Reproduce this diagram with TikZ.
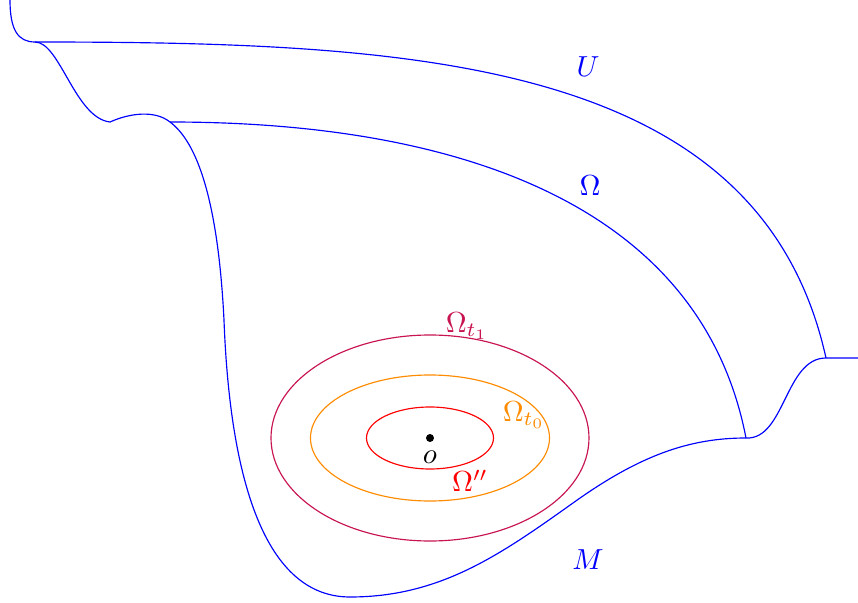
\documentclass[tikz,border=0pt]{standalone}
\begin{document}
\begin{tikzpicture}[x=0.345pt,y=-0.345pt,
  bnd/.style={draw=blue,line width=0.4pt},
  lbl/.style={inner sep=0pt},
  ]
\definecolor{crim}{RGB}{200,20,80}
\definecolor{orng}{RGB}{255,140,0}
\useasboundingbox (0,0) rectangle (858,603);
% boundaries
\draw[bnd] (10,0) .. controls (10,30) and (18,42) .. (35,42)
  .. controls (60,42) and (75,118) .. (110,122)
  .. controls (130,113) and (155,110) .. (170,122)
  .. controls (197,142) and (218,200) .. (224,320)
  .. controls (230,480) and (265,597) .. (350,597)
  .. controls (440,597) and (500,555) .. (573,503)
  .. controls (640,455) and (690,438) .. (746,438)
  .. controls (785,440) and (785,358) .. (826,358) -- (858,358);
\draw[bnd] (35,42) .. controls (420,42) and (760,60) .. (826,358);
\draw[bnd] (170,122) .. controls (450,122) and (700,200) .. (746,438);
% level sets
\coordinate (O) at (430,438);
\draw[crim] (O) ellipse [x radius=159, y radius=103];
\draw[orng] (O) ellipse [x radius=119.5, y radius=63];
\draw[red] (O) ellipse [x radius=63.5, y radius=31];
\fill (O) circle [radius=4];
% labels
\node[lbl] (lo) at (430,457) {$o$};
\node[lbl,text=blue] (lU) at (588,67) {$U$};
\node[lbl,text=blue] (lOm) at (590,186) {$\Omega$};
\node[lbl,text=blue] (lM) at (588,560) {$M$};
\node[lbl,text=crim] (l1) at (467,326) {$\Omega_{t_1}$};
\node[lbl,text=orng] (l0) at (524,415) {$\Omega_{t_0}$};
\node[lbl,text=red] (l2) at (470,481) {$\Omega''$};
\end{tikzpicture}
\end{document}
